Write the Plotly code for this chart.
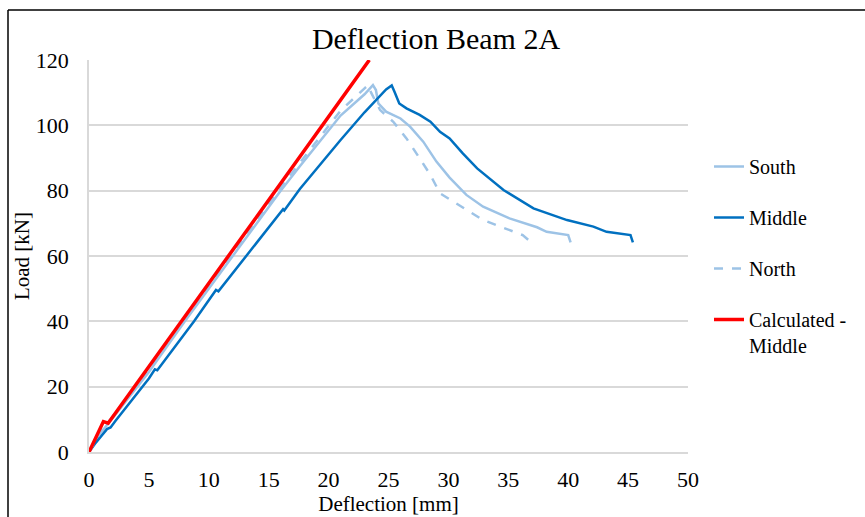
import plotly.graph_objects as go

# ---- data ----
south_x = [0, 1, 2, 5, 8, 12, 16, 17.6, 21, 23.0, 23.7, 23.95, 24.15, 24.8, 26.0, 26.8, 27.9, 29.0, 30.1, 31.5, 32.9, 35.1, 37.4, 38.2, 40.0, 40.2]
south_y = [0, 6, 10.5, 24.5, 40, 60, 80, 87.5, 103, 109.5, 112.3, 110.8, 106.7, 104.2, 102.1, 99.6, 95.0, 88.9, 84.0, 78.7, 75.1, 71.5, 68.8, 67.4, 66.4, 64.2]

middle_x = [0, 0.5, 1.5, 1.8, 2.2, 5, 5.5, 5.7, 8.77, 10.6, 10.8, 13.1, 16.0, 16.2, 16.3, 17.6, 21, 23, 24.8, 25.27, 25.5, 25.9, 26.5, 27.6, 28.5, 29.3, 30.1, 31.2, 32.4, 34.6, 37.1, 39.9, 42.1, 43.2, 45.2, 45.4]
middle_y = [0, 2.5, 7, 7.5, 9.5, 22.5, 25.3, 25.0, 40, 49.6, 49.2, 60, 73.7, 74.3, 73.9, 80.5, 95.5, 104, 111, 112.2, 110.3, 106.7, 105.2, 103.2, 101.1, 98.0, 96.0, 91.4, 86.8, 80.2, 74.6, 71.0, 69.0, 67.4, 66.4, 64.2]

north_x = [0, 1, 2, 5, 8, 12, 16, 17.6, 21, 23.0, 23.3, 23.55, 24.3, 25.4, 26.5, 27.6, 28.5, 29.3, 30.4, 32.9, 36.2, 36.9]
north_y = [0, 6.3, 11, 25, 40.5, 60.5, 81, 88.5, 104.5, 111.3, 112.3, 110, 104.7, 101.1, 96.0, 89.9, 84.8, 79.2, 76.7, 71.0, 66.4, 64.2]

calc_x = [0, 1.2, 1.6, 23.4]
calc_y = [0, 9.3, 8.8, 120]

x_ticks = [0, 5, 10, 15, 20, 25, 30, 35, 40, 45, 50]
y_ticks = [0, 20, 40, 60, 80, 100, 120]

LIGHT = "#9DC3E6"
DARK = "#0070C0"
RED = "#FF0000"
FONT = "Liberation Serif"

fig = go.Figure()
fig.add_trace(go.Scatter(x=south_x, y=south_y, mode="lines", name="South",
                         line=dict(color=LIGHT, width=2.5), legendgroup="a"))
fig.add_trace(go.Scatter(x=middle_x, y=middle_y, mode="lines", name="Middle",
                         line=dict(color=DARK, width=2.5), legendgroup="b"))
fig.add_trace(go.Scatter(x=north_x, y=north_y, mode="lines", name="North",
                         line=dict(color=LIGHT, width=2.5, dash="dash"), legendgroup="c"))
fig.add_trace(go.Scatter(x=calc_x, y=calc_y, mode="lines", name="Calculated -<br>Middle",
                         line=dict(color=RED, width=3.5), legendgroup="d"))

L, R, T, B = 89, 865 - 688, 60, 517 - 452
W, H = 865, 517
pw, ph = W - L - R, H - T - B

def px_x(p):
    return (p - L) / pw

def px_y(p):
    return (H - B - p) / ph

fig.update_layout(
    width=W, height=H,
    margin=dict(l=L, r=R, t=T, b=B, autoexpand=False),
    paper_bgcolor="white", plot_bgcolor="white",
    font=dict(family=FONT, size=21, color="#000000"),
    title=dict(text="Deflection Beam 2A", x=436 / W, xref="container", xanchor="center",
               y=1 - 38 / H, yref="container", yanchor="middle",
               font=dict(family=FONT, size=30, color="#000000")),
    showlegend=True,
    legend=dict(x=px_x(709), xanchor="left", y=px_y(147), yanchor="top",
                font=dict(family=FONT, size=20, color="#000000"),
                tracegroupgap=22, valign="top", bgcolor="rgba(0,0,0,0)"),
    xaxis=dict(range=[0, 50], tickvals=x_ticks, showgrid=False, zeroline=False,
               showline=True, linecolor="#D9D9D9", linewidth=1.5,
               ticks="", ticklabelstandoff=7,
               tickfont=dict(family=FONT, size=22),
               title=dict(text="Deflection [mm]", standoff=5,
                          font=dict(family=FONT, size=21))),
    yaxis=dict(range=[0, 120], tickvals=y_ticks, showgrid=True, gridcolor="#D9D9D9",
               gridwidth=1.5, zeroline=False, showline=True, linecolor="#D9D9D9",
               linewidth=1.5, ticks="", ticklabelstandoff=14,
               tickfont=dict(family=FONT, size=22),
               title=dict(text="Load [kN]", standoff=0,
                          font=dict(family=FONT, size=21))),
)

# outer chart border (top and left visible in the reference)
fig.add_shape(type="line", xref="paper", yref="paper",
              x0=px_x(8), x1=px_x(866), y0=px_y(10), y1=px_y(10),
              line=dict(color="black", width=1.5))
fig.add_shape(type="line", xref="paper", yref="paper",
              x0=px_x(8), x1=px_x(8), y0=px_y(10), y1=px_y(518),
              line=dict(color="black", width=1.5))

fig.write_html("out.html")
